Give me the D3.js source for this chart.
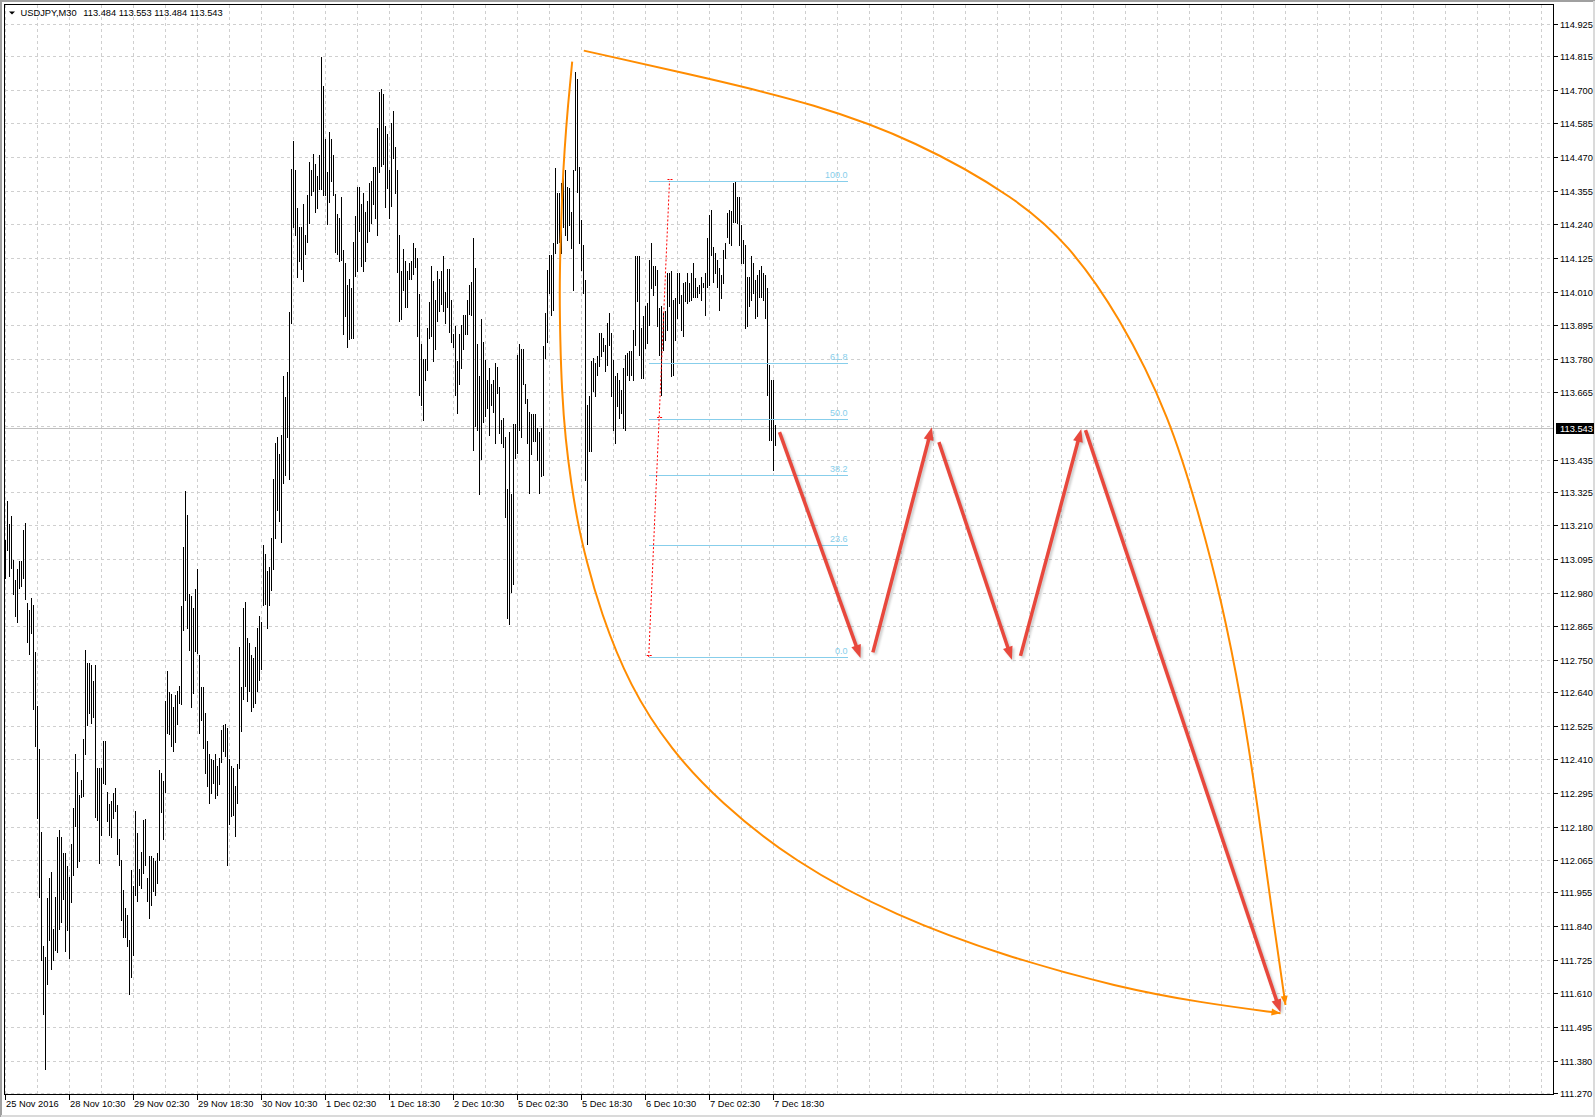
<!DOCTYPE html>
<html><head><meta charset="utf-8">
<script src="https://cdn.jsdelivr.net/npm/d3@7"></script>
<style>
html,body{margin:0;padding:0;background:#fff;}
svg{display:block;font-family:"Liberation Sans",Arial,sans-serif;}
</style></head><body>
<svg id="chart" width="1596" height="1118"></svg>
<script>
// ---------------- data ----------------
const symbolText = "USDJPY,M30";
const ohlcText = "113.484 113.553 113.484 113.543";

const highs = [
113.159,113.295,113.214,113.243,113.092,113.024,113.060,113.088,113.088,113.193,
113.218,112.945,112.920,112.963,112.938,112.776,112.593,112.445,112.163,111.773,
111.733,111.936,112.005,112.025,111.831,111.940,112.143,112.170,112.143,112.089,
112.089,112.046,112.008,112.120,112.242,112.428,112.367,112.288,112.340,112.478,
112.784,112.739,112.739,112.733,112.678,112.733,112.380,112.380,112.380,112.472,
112.472,112.299,112.258,112.268,112.296,112.312,112.254,112.139,112.066,111.964,
111.903,111.879,111.791,112.031,111.976,112.234,112.157,112.035,112.093,112.204,
112.207,112.005,112.079,112.079,112.071,112.062,112.089,112.373,112.364,112.336,
112.611,112.712,112.642,112.635,112.590,112.631,112.644,112.662,112.936,113.135,
113.329,113.245,112.974,112.970,112.929,112.993,113.062,112.766,112.658,112.658,
112.570,112.472,112.428,112.411,112.407,112.428,112.387,112.414,112.509,112.527,
112.532,112.516,112.410,112.387,112.380,112.319,112.394,112.794,112.658,112.929,
112.947,112.825,112.807,112.766,112.756,112.794,112.861,112.900,112.880,113.144,
113.113,113.055,113.068,113.166,113.368,113.492,113.512,113.453,113.518,113.721,
113.649,113.734,113.940,114.430,114.524,114.426,114.295,114.230,114.230,114.308,
114.204,114.341,114.452,114.426,114.482,114.446,114.406,114.478,114.811,114.713,
114.530,114.419,114.557,114.530,114.478,114.344,114.276,114.263,114.335,114.152,
114.109,114.034,114.054,114.021,114.178,114.269,114.367,114.367,114.308,114.348,
114.282,114.321,114.380,114.387,114.435,114.435,114.570,114.694,114.704,114.687,
114.576,114.550,114.426,114.587,114.628,114.504,114.426,114.204,114.080,114.154,
114.115,114.080,114.106,114.115,114.175,114.158,114.126,114.002,113.832,113.780,
113.780,113.884,113.975,114.099,114.047,113.982,114.080,114.054,114.080,114.130,
114.008,114.086,114.086,113.982,113.864,113.891,113.773,113.864,113.897,113.930,
113.930,113.982,114.034,114.041,114.193,114.090,113.832,113.721,113.917,113.838,
113.776,113.708,113.747,113.695,113.708,113.766,113.753,113.682,113.571,113.577,
113.512,113.336,113.531,113.316,113.557,113.557,113.793,113.832,113.812,113.812,
113.695,113.642,113.597,113.590,113.590,113.590,113.544,113.531,113.543,113.825,
113.936,114.084,114.135,114.135,114.175,114.432,114.346,114.346,114.380,114.454,
114.426,114.369,114.363,114.283,114.426,114.760,114.737,114.435,114.255,114.170,
114.050,113.623,113.652,113.773,113.782,113.765,113.788,113.868,113.868,113.851,
113.828,113.902,113.936,113.868,113.777,113.720,113.731,113.708,113.674,113.748,
113.794,113.800,113.805,113.805,113.879,114.130,114.130,114.130,113.885,113.925,
113.959,113.970,114.118,114.175,114.096,114.096,114.084,113.953,113.959,113.936,
113.942,114.073,114.073,114.079,113.982,113.987,114.073,114.073,113.999,114.039,
114.044,114.073,114.039,114.073,114.107,114.056,114.027,114.033,114.061,114.039,
114.073,114.192,114.272,114.289,114.164,114.141,114.118,114.090,114.067,114.153,
114.175,114.278,114.289,114.284,114.380,114.386,114.335,114.335,114.238,114.187,
114.170,114.061,114.061,114.130,114.107,114.050,114.067,114.084,114.096,114.073,
114.067,114.022,113.760,113.708,113.708,113.553];

const lows = [
113.031,113.125,113.037,113.064,112.976,112.902,112.879,112.997,113.004,113.031,
112.959,112.810,112.770,112.841,112.581,112.455,112.208,111.940,111.723,111.540,
111.350,111.642,111.791,111.692,111.723,111.757,111.750,111.831,111.854,111.933,
111.753,111.825,111.730,111.922,112.014,112.181,112.041,112.062,112.283,112.285,
112.430,112.527,112.570,112.536,112.556,112.214,112.204,112.055,112.150,112.329,
112.326,112.200,112.150,112.146,112.211,112.235,112.085,112.048,111.859,111.804,
111.802,111.773,111.608,111.665,111.741,111.947,111.926,111.981,111.971,112.021,
112.048,111.926,111.868,111.913,111.960,111.947,111.987,112.066,112.231,112.139,
112.299,112.499,112.498,112.457,112.437,112.468,112.532,112.604,112.601,112.854,
112.956,112.859,112.783,112.590,112.638,112.780,112.773,112.499,112.543,112.448,
112.364,112.319,112.261,112.296,112.330,112.279,112.289,112.326,112.401,112.437,
112.421,112.048,112.188,112.218,112.220,112.147,112.261,112.380,112.506,112.617,
112.662,112.611,112.645,112.577,112.590,112.604,112.645,112.680,112.720,112.937,
112.942,112.859,112.937,112.989,113.061,113.166,113.264,113.224,113.153,113.355,
113.381,113.512,113.368,113.904,114.230,114.204,114.060,114.113,114.086,114.047,
114.139,114.178,114.243,114.341,114.354,114.282,114.295,114.361,114.361,114.341,
114.341,114.240,114.315,114.387,114.341,114.145,114.139,114.113,114.119,113.864,
113.926,113.821,113.847,113.851,113.851,114.064,114.080,114.217,114.099,114.080,
114.113,114.178,114.217,114.243,114.308,114.263,114.204,114.419,114.439,114.446,
114.299,114.363,114.263,114.302,114.468,114.348,114.077,113.910,113.917,114.015,
113.958,113.956,114.054,114.054,114.071,114.093,113.858,113.655,113.623,113.571,
113.708,113.740,113.851,113.858,113.773,113.812,113.910,113.943,113.969,113.943,
113.904,113.956,113.871,113.838,113.819,113.655,113.593,113.695,113.747,113.812,
113.864,113.864,113.932,113.930,113.469,113.551,113.538,113.318,113.436,113.564,
113.584,113.610,113.518,113.623,113.597,113.492,113.662,113.525,113.492,113.479,
113.238,112.895,112.874,112.983,113.009,113.440,113.459,113.538,113.512,113.695,
113.629,113.492,113.322,113.453,113.499,113.499,113.433,113.322,113.378,113.381,
113.782,113.839,114.004,113.930,113.948,114.141,114.175,114.181,114.141,114.232,
114.204,114.187,114.238,114.158,114.016,114.426,114.352,114.175,114.084,114.005,
113.367,113.145,113.464,113.464,113.669,113.652,113.726,113.754,113.788,113.805,
113.737,113.760,113.828,113.652,113.538,113.492,113.617,113.577,113.594,113.543,
113.538,113.726,113.708,113.726,113.708,113.828,113.976,113.794,113.714,113.714,
113.817,113.834,113.896,114.022,113.999,114.033,113.891,113.794,113.657,113.811,
113.845,113.879,113.959,113.720,113.726,113.845,113.919,113.970,113.879,113.857,
113.976,113.970,113.976,113.982,113.993,113.993,113.993,114.005,113.982,114.027,
113.930,114.027,114.033,114.135,114.044,114.073,114.027,113.948,113.987,114.039,
114.124,114.198,114.175,114.170,114.249,114.249,114.244,114.170,114.107,114.107,
113.885,113.891,113.959,113.982,114.005,113.919,113.925,113.993,113.993,113.982,
113.919,113.657,113.503,113.503,113.401,113.484];

const timeLabels = ["25 Nov 2016","28 Nov 10:30","29 Nov 02:30","29 Nov 18:30","30 Nov 10:30",
  "1 Dec 02:30","1 Dec 18:30","2 Dec 10:30","5 Dec 02:30","5 Dec 18:30","6 Dec 10:30",
  "7 Dec 02:30","7 Dec 18:30"];
const timeLabelBars = [0,32,64,96,128,160,192,224,256,288,320,352,384];

const priceTicks = ["114.925","114.815","114.700","114.585","114.470","114.355","114.240","114.125",
  "114.010","113.895","113.780","113.665","113.550","113.435","113.325","113.210","113.095",
  "112.980","112.865","112.750","112.640","112.525","112.410","112.295","112.180","112.065",
  "111.955","111.840","111.725","111.610","111.495","111.380","111.270"];

const currentPrice = 113.543;

// Fibonacci retracement: anchors [barIndex, price]
const fibAnchors = [[321.6, 112.760], [332.0, 114.388]];
const fibRayEnd = 421.0;
const fibLevels = [0, 23.6, 38.2, 50, 61.8, 100];

// red projected path arrows: [bar1, price1, bar2, price2]
const redArrows = [
  [387.0, 113.529, 427.5, 112.757],
  [433.7, 112.776, 463.2, 113.546],
  [466.7, 113.495, 503.2, 112.751],
  [507.5, 112.764, 537.9, 113.540],
  [540.0, 113.536, 637.5, 111.545]
];

// orange curved arrows: guide points [bar, price]
const curveLower = [
  [283.35,114.796],[281.15,114.642],[279.5,114.494],[278.35,114.357],[277.5,114.186],
  [277.0,114.015],[277.35,113.844],[278.15,113.673],[280.0,113.502],[282.85,113.354],
  [286.15,113.217],[290.35,113.092],[297.3,112.919],[312.0,112.660],[333.0,112.440],
  [357.0,112.265],[394.0,112.060],[444.9,111.874],[500.85,111.734],[556.85,111.630],
  [597.5,111.578],[637.5,111.542]];
const curveUpper = [
  [289.15,114.834],[353.25,114.736],[404.15,114.652],[455.0,114.527],[505.95,114.328],
  [531.4,114.172],[556.85,113.928],[582.3,113.580],[597.5,113.230],[607.75,112.960],
  [617.9,112.620],[626.5,112.230],[633.5,111.874],[640.0,111.570]];

// ---------------- drawing ----------------
const W = 1596, H = 1118;
const P = {left: 4.5, top: 4.5, right: 1553.5, bottom: 1094.5};
const x = d3.scaleLinear().domain([0, 774]).range([5.5, 1553.5]);
const y = d3.scaleLinear().domain([111.270, 114.925]).range([1092.7, 24]);
const yp = v => Math.round(y(v)) + 0.5;

const svg = d3.select("#chart");
svg.append("rect").attr("width", W).attr("height", H).attr("fill", "#fff");

// window frame
svg.append("path").attr("d", "M1,1117V1H1595").attr("fill", "none")
  .attr("stroke", "#a0a0a0").attr("stroke-width", 2);
svg.append("path").attr("d", "M1,1116H1594V1").attr("fill", "none")
  .attr("stroke", "#dadada").attr("stroke-width", 2);

const defs = svg.append("defs");
defs.append("clipPath").attr("id", "plotclip").append("rect")
  .attr("x", P.left).attr("y", P.top).attr("width", P.right - P.left).attr("height", P.bottom - P.top);
defs.append("filter").attr("id", "shadow").attr("x", "-20%").attr("y", "-20%").attr("width", "140%").attr("height", "140%")
  .append("feGaussianBlur").attr("stdDeviation", 1.2);

const plot = svg.append("g").attr("clip-path", "url(#plotclip)");

// grid
const gridColor = "#cfcfcf";
const vIdx = d3.range(0, 775, 16).filter(i => x(i) < P.right - 1);
plot.append("g").selectAll("line").data(vIdx).join("line")
  .attr("x1", d => x(d)).attr("x2", d => x(d)).attr("y1", P.top).attr("y2", P.bottom)
  .attr("stroke", gridColor).attr("stroke-dasharray", "3,3").attr("shape-rendering", "crispEdges");
plot.append("g").selectAll("line").data(priceTicks).join("line")
  .attr("x1", P.left).attr("x2", P.right).attr("y1", d => yp(+d)).attr("y2", d => yp(+d))
  .attr("stroke", gridColor).attr("stroke-dasharray", "3,3").attr("shape-rendering", "crispEdges");

// current price line
plot.append("line").attr("x1", P.left).attr("x2", P.right)
  .attr("y1", yp(currentPrice)).attr("y2", yp(currentPrice))
  .attr("stroke", "#c0c0c0").attr("shape-rendering", "crispEdges");

// bars
plot.append("g").selectAll("line").data(d3.range(highs.length)).join("line")
  .attr("x1", i => x(i)).attr("x2", i => x(i))
  .attr("y1", i => Math.round(y(highs[i]))).attr("y2", i => Math.round(y(lows[i])) + 1)
  .attr("stroke", "#000").attr("stroke-width", 1).attr("shape-rendering", "crispEdges");

// fibonacci
const fibLo = fibAnchors[0][1], fibHi = fibAnchors[1][1];
const fibG = plot.append("g");
fibG.selectAll("line").data(fibLevels).join("line")
  .attr("x1", x(fibAnchors[0][0])).attr("x2", x(fibRayEnd))
  .attr("y1", d => yp(fibLo + (fibHi - fibLo) * d / 100))
  .attr("y2", d => yp(fibLo + (fibHi - fibLo) * d / 100))
  .attr("stroke", "#87ceeb").attr("stroke-width", 1).attr("shape-rendering", "crispEdges");
fibG.selectAll("text").data(fibLevels).join("text")
  .attr("x", x(fibRayEnd)).attr("y", d => yp(fibLo + (fibHi - fibLo) * d / 100) - 3.5)
  .attr("text-anchor", "end").attr("font-size", 9).attr("fill", "#87ceeb")
  .text(d => d.toFixed(1));
// fib trend line (dotted red)
fibG.append("line")
  .attr("x1", x(fibAnchors[0][0])).attr("y1", y(fibLo))
  .attr("x2", x(fibAnchors[1][0])).attr("y2", y(fibHi))
  .attr("stroke", "#ff0000").attr("stroke-width", 1).attr("stroke-dasharray", "2,2");
const fibMid = [(fibAnchors[0][0] + fibAnchors[1][0]) / 2, (fibLo + fibHi) / 2];
[[fibAnchors[0][0], fibLo], [fibAnchors[1][0], fibHi], fibMid].forEach(p => {
  fibG.append("line").attr("x1", x(p[0]) - 2).attr("x2", x(p[0]) + 3)
    .attr("y1", Math.round(y(p[1])) - 1.5).attr("y2", Math.round(y(p[1])) - 1.5)
    .attr("stroke", "#ff0000").attr("stroke-width", 1).attr("stroke-dasharray", "2,1");
});

// arrow helper
function arrowShapes(g, x1, y1, x2, y2, color, width, headLen, headHalf) {
  const dx = x2 - x1, dy = y2 - y1, L = Math.hypot(dx, dy);
  const ux = dx / L, uy = dy / L, nx = -uy, ny = ux;
  const bx = x2 - ux * headLen, by = y2 - uy * headLen;
  g.append("line").attr("x1", x1).attr("y1", y1)
    .attr("x2", x2 - ux * headLen * 0.7).attr("y2", y2 - uy * headLen * 0.7)
    .attr("stroke", color).attr("stroke-width", width);
  g.append("path")
    .attr("d", `M${x2},${y2}L${bx + nx * headHalf},${by + ny * headHalf}L${bx - nx * headHalf},${by - ny * headHalf}Z`)
    .attr("fill", color);
}

// orange curves (smooth B-spline through guide points)
const curveLine = d3.line().x(d => x(d[0])).y(d => y(d[1])).curve(d3.curveBasis);
const orange = "#ff8c00";
[curveLower, curveUpper].forEach(pts => {
  plot.append("path").attr("d", curveLine(pts)).attr("fill", "none")
    .attr("stroke", orange).attr("stroke-width", 2);
  const a = pts[pts.length - 2], b = pts[pts.length - 1];
  const g = plot.append("g");
  const X1 = x(a[0]), Y1 = y(a[1]), X2 = x(b[0]), Y2 = y(b[1]);
  const L = Math.hypot(X2 - X1, Y2 - Y1), ux = (X2 - X1) / L, uy = (Y2 - Y1) / L;
  const nx = -uy, ny = ux, bx = X2 - ux * 9, by = Y2 - uy * 9;
  g.append("path").attr("d", `M${X2},${Y2}L${bx + nx * 3.5},${by + ny * 3.5}L${bx - nx * 3.5},${by - ny * 3.5}Z`)
    .attr("fill", orange);
});

// red arrows with soft shadow
const shadowG = plot.append("g").attr("filter", "url(#shadow)").attr("opacity", 0.28)
  .attr("transform", "translate(2,2)");
const redG = plot.append("g");
redArrows.forEach(r => {
  arrowShapes(shadowG, x(r[0]), y(r[1]), x(r[2]), y(r[3]), "#555", 3.5, 13, 5);
  arrowShapes(redG, x(r[0]), y(r[1]), x(r[2]), y(r[3]), "#e8483d", 3.5, 13, 5);
});

// frame lines
svg.append("rect").attr("x", P.left).attr("y", P.top).attr("width", P.right - P.left)
  .attr("height", P.bottom - P.top).attr("fill", "none").attr("stroke", "#000")
  .attr("shape-rendering", "crispEdges");

// price axis
const axR = svg.append("g").attr("font-size", 9.3).attr("fill", "#000");
priceTicks.filter(t => t !== "113.550").forEach(t => {
  axR.append("line").attr("x1", P.right).attr("x2", P.right + 4).attr("y1", yp(+t)).attr("y2", yp(+t))
    .attr("stroke", "#000").attr("shape-rendering", "crispEdges");
  axR.append("text").attr("x", 1560).attr("y", yp(+t) + 3.5).text(t);
});
// current price box
svg.append("rect").attr("x", 1556).attr("y", Math.round(y(currentPrice)) - 5)
  .attr("width", 38).attr("height", 11).attr("fill", "#000");
svg.append("text").attr("x", 1560).attr("y", Math.round(y(currentPrice)) + 4)
  .attr("font-size", 9.3).attr("fill", "#fff").text(currentPrice.toFixed(3));

// time axis
const axB = svg.append("g").attr("font-size", 9.3).attr("fill", "#000");
timeLabelBars.forEach((b, i) => {
  axB.append("line").attr("x1", x(b)).attr("x2", x(b)).attr("y1", P.bottom).attr("y2", P.bottom + 5)
    .attr("stroke", "#000").attr("shape-rendering", "crispEdges");
  axB.append("text").attr("x", x(b) + 0.5).attr("y", 1107).text(timeLabels[i]);
});

// header
svg.append("path").attr("d", "M9,11.5L15,11.5L12,14.5Z").attr("fill", "#000");
svg.append("text").attr("x", 20.5).attr("y", 16).attr("font-size", 9.3).text(symbolText);
svg.append("text").attr("x", 83.3).attr("y", 16).attr("font-size", 9.3).text(ohlcText);
</script>
</body></html>
